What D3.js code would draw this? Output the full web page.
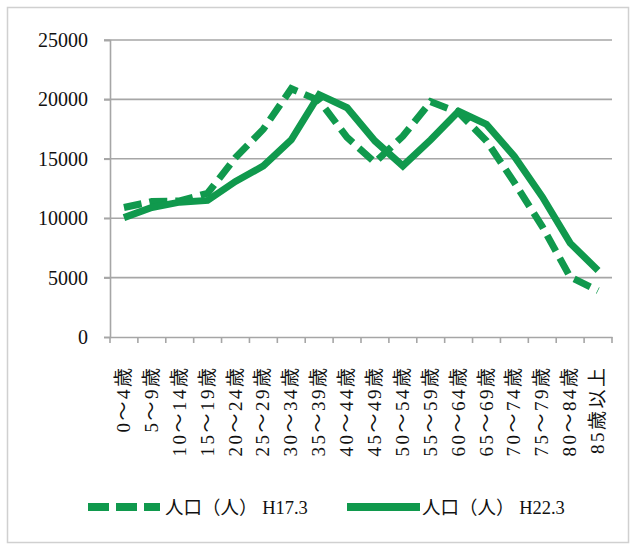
<!DOCTYPE html>
<html><head><meta charset="utf-8">
<script src="https://cdn.jsdelivr.net/npm/d3@7"></script>
<style>body{margin:0;background:#fff}</style>
</head><body>
<script>
const categories = ["0～4歳","5～9歳","10～14歳","15～19歳","20～24歳","25～29歳","30～34歳","35～39歳","40～44歳","45～49歳","50～54歳","55～59歳","60～64歳","65～69歳","70～74歳","75～79歳","80～84歳","85歳以上"];
const seriesNames = ["人口（人） H17.3","人口（人） H22.3"];
const h17 = [10900,11400,11450,12100,15100,17500,20900,19900,16800,14700,16900,19800,18900,16500,13000,9300,5050,3900];
const h22 = [10050,10900,11350,11500,13100,14400,16600,20400,19300,16500,14400,16600,19000,17900,15200,11800,7900,5600];
const yTicks = [0,5000,10000,15000,20000,25000];

const W=636,H=545;
const svg=d3.select("body").append("svg").attr("width",W).attr("height",H);
svg.append("rect").attr("x",7.5).attr("y",7.5).attr("width",621).attr("height",535)
  .attr("fill","#fff").attr("stroke","#d0d0d0").attr("stroke-width",1.5);

const x=d3.scaleBand().domain(categories).range([110,612]);
const y=d3.scaleLinear().domain([0,25000]).range([337,40]);
const grid="#a6a6a6";
const serif="Liberation Serif, DejaVu Serif, Noto Sans CJK JP, serif";

// gridlines
svg.append("g").selectAll("line").data(yTicks.filter(d=>d>0)).join("line")
  .attr("x1",104).attr("x2",612).attr("y1",d=>y(d)).attr("y2",d=>y(d))
  .attr("stroke",grid).attr("stroke-width",1.6);

// y axis
const ya=svg.append("g").attr("transform","translate(110,0)")
  .call(d3.axisLeft(y).tickValues(yTicks).tickSize(6).tickPadding(16).tickFormat(d3.format("d")));
ya.select(".domain").attr("stroke",grid).attr("stroke-width",1.6);
ya.selectAll(".tick line").attr("stroke",grid).attr("stroke-width",1.6);
ya.selectAll("text").attr("font-family",serif).attr("font-size",20).attr("fill","#111");

// x axis
const xa=svg.append("g").attr("transform","translate(0,337)")
  .call(d3.axisBottom(x).tickSize(0).tickFormat(""));
xa.select(".domain").attr("stroke",grid).attr("stroke-width",1.6);
const edges=categories.map(c=>x(c)).concat([612]);
svg.append("g").selectAll("line").data(edges).join("line")
  .attr("x1",d=>d).attr("x2",d=>d).attr("y1",337).attr("y2",343)
  .attr("stroke",grid).attr("stroke-width",1.6);
svg.append("g").selectAll("text").data(categories).join("text")
  .attr("transform",d=>`translate(${x(d)+x.bandwidth()/2+6},365.5) rotate(-90)`)
  .attr("text-anchor","end").attr("font-family",serif).attr("font-size",19)
  .attr("letter-spacing",2.5).attr("fill","#111")
  .text(d=>d);

const green="#10994d";
const line=d3.line().x((d,i)=>x(categories[i])+x.bandwidth()/2).y(d=>y(d));
svg.append("path").datum(h17).attr("d",line).attr("fill","none").attr("stroke",green)
  .attr("stroke-width",7).attr("stroke-dasharray","18,8").attr("stroke-linejoin","miter");
svg.append("path").datum(h22).attr("d",line).attr("fill","none").attr("stroke",green)
  .attr("stroke-width",7).attr("stroke-linejoin","miter");

// legend
const lg=svg.append("g");
lg.append("line").attr("x1",88).attr("x2",160).attr("y1",507).attr("y2",507)
  .attr("stroke",green).attr("stroke-width",8).attr("stroke-dasharray","21,7");
lg.append("text").attr("x",165).attr("y",514).attr("font-family",serif).attr("font-size",18.5).attr("fill","#111").text(seriesNames[0]);
lg.append("line").attr("x1",347).attr("x2",420).attr("y1",507).attr("y2",507)
  .attr("stroke",green).attr("stroke-width",8);
lg.append("text").attr("x",422).attr("y",514).attr("font-family",serif).attr("font-size",18.5).attr("fill","#111").text(seriesNames[1]);
</script>
</body></html>
